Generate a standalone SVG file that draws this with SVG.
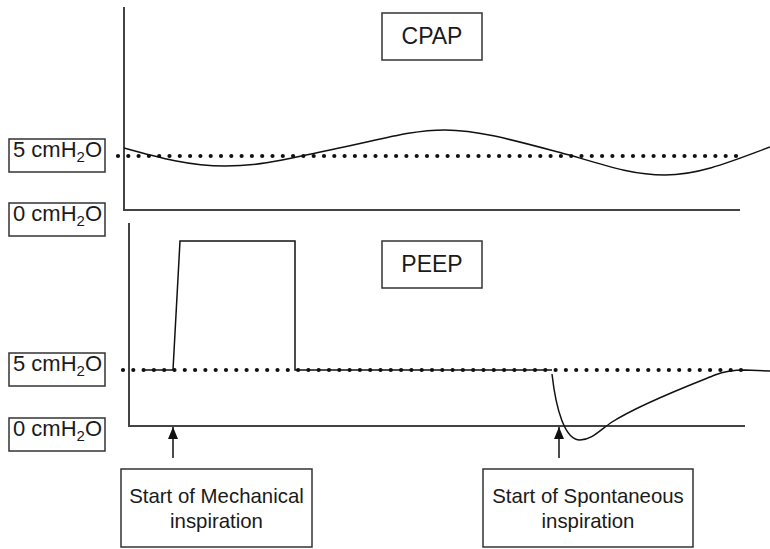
<svg xmlns="http://www.w3.org/2000/svg" width="770" height="549" viewBox="0 0 770 549">
<style>
  text { font-family: "Liberation Sans", Arial, sans-serif; fill: #1a1a1a; }
  .lbl { font-size: 22px; }
  .title { font-size: 23px; text-anchor: middle; }
  .note { font-size: 20.4px; text-anchor: middle; }
  .box { fill: #fff; stroke: #333; stroke-width: 1.5; }
  .axis { fill: none; stroke: #444; stroke-width: 2; }
  .wave { fill: none; stroke: #111; stroke-width: 1.5; }
  .dots { fill: none; stroke: #111; stroke-width: 4.2; stroke-linecap: round; stroke-dasharray: 0 10.3; }
  .arr { stroke: #111; stroke-width: 1.5; fill: none; }
</style>
<defs>
  <marker id="ah" markerWidth="12" markerHeight="10" refX="12" refY="5" orient="auto" markerUnits="userSpaceOnUse" viewBox="0 0 12 10">
    <path d="M0,0 L12,5 L0,10 Z" fill="#111"/>
  </marker>
</defs>

<g id="cpap-chart">
  <path class="axis" d="M124,7 V210 H740"/>
  <path class="dots" d="M118,156 H738"/>
  <path class="wave" d="M124,148 C160,158 190,166 225,166 C265,166 290,158 330,150 C380,140 410,130 445,130 C480,130 520,142 573,156 C610,167 635,175 665,175 C700,175 735,160 770,147"/>
</g>
<g id="cpap-title">
  <rect class="box" x="382" y="13" width="100" height="47"/>
  <text class="title" x="432" y="44">CPAP</text>
</g>
<g id="cpap-5">
  <rect class="box" x="9" y="139" width="96" height="33"/>
  <text class="lbl" x="13" y="157">5 cmH<tspan font-size="15" dy="5">2</tspan><tspan dy="-5">O</tspan></text>
</g>
<g id="cpap-0">
  <rect class="box" x="9" y="203" width="96" height="33"/>
  <text class="lbl" x="13" y="221">0 cmH<tspan font-size="15" dy="5">2</tspan><tspan dy="-5">O</tspan></text>
</g>

<g id="peep-chart">
  <path class="axis" d="M129,223 V426 H745"/>
  <path class="dots" d="M123,370 H743"/>
  <path class="wave" d="M143,370 H173 L180,241 H295 V370 H552"/>
  <path class="wave" d="M552,374 C556,410 565,440 580,440 C592,440 600,430 612,422 C640,404 690,385 715,375 C725,371 735,370 745,370 L770,371"/>
</g>
<g id="peep-title">
  <rect class="box" x="382" y="241" width="100" height="47"/>
  <text class="title" x="432" y="272">PEEP</text>
</g>
<g id="peep-5">
  <rect class="box" x="9" y="353" width="96" height="33"/>
  <text class="lbl" x="13" y="371">5 cmH<tspan font-size="15" dy="5">2</tspan><tspan dy="-5">O</tspan></text>
</g>
<g id="peep-0">
  <rect class="box" x="9" y="418" width="96" height="33"/>
  <text class="lbl" x="13" y="436">0 cmH<tspan font-size="15" dy="5">2</tspan><tspan dy="-5">O</tspan></text>
</g>

<g id="connectors">
  <path class="arr" d="M173,458 V427" marker-end="url(#ah)"/>
  <path class="arr" d="M559,458 V427" marker-end="url(#ah)"/>
</g>

<g id="mech-note">
  <rect class="box" x="121" y="469" width="191" height="78"/>
  <text class="note" x="216.5" y="503">Start of Mechanical</text>
  <text class="note" x="216.5" y="528">inspiration</text>
</g>
<g id="spont-note">
  <rect class="box" x="483" y="469" width="210" height="78"/>
  <text class="note" x="588" y="503">Start of Spontaneous</text>
  <text class="note" x="588" y="528">inspiration</text>
</g>
</svg>
